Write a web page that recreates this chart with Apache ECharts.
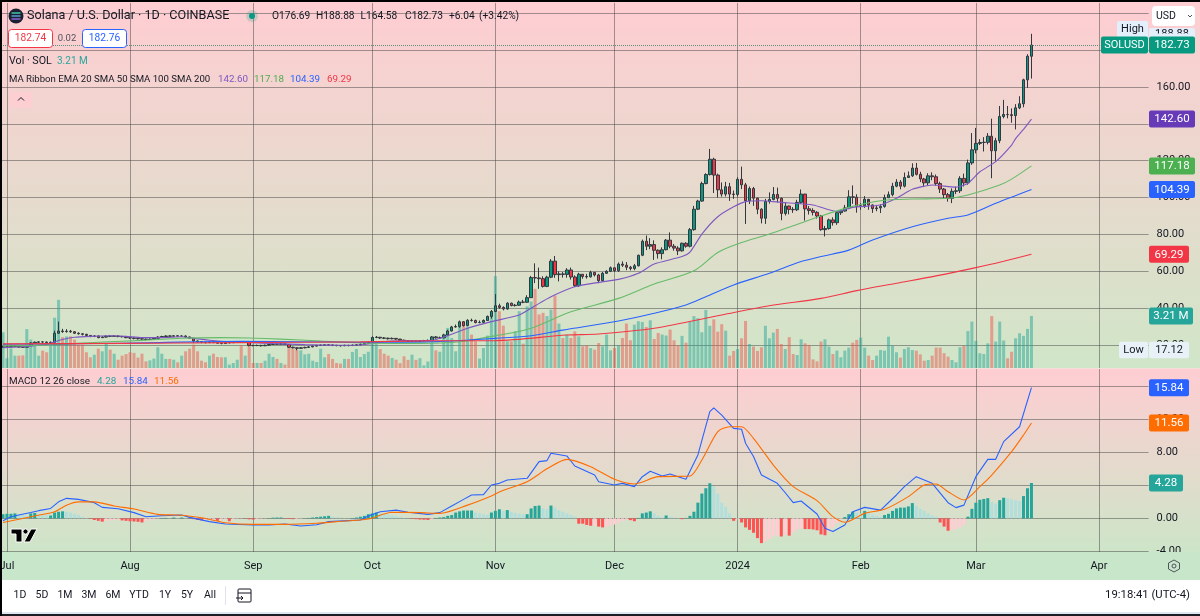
<!DOCTYPE html>
<html>
<head>
<meta charset="utf-8">
<title>SOLUSD</title>
<script src="https://cdn.jsdelivr.net/npm/echarts@6/dist/echarts.min.js"></script>
<style>
    html, body { margin: 0; padding: 0; background: #fff; }
    #main { width: 1200px; height: 616px; }
</style>
</head>
<body>
<div id="main"></div>
<script>
    // daily candles, index 0 = 30 Jun 2023
    var opens = [18.9,19.0,19.1,19.3,19.5,18.9,18.8,19.6,21.1,21.5,
        21.7,21.6,21.3,21.5,26.4,27.6,27.3,27.5,27.2,26.4,
        26.1,25.8,25.2,24.7,24.9,24.0,24.3,24.8,24.7,24.9,
        24.6,24.5,24.0,23.8,23.6,23.4,23.2,23.0,23.2,23.7,
        24.3,24.6,24.9,24.8,25.0,24.8,24.9,24.4,23.7,22.2,
        21.8,21.5,21.3,21.6,21.4,21.0,20.8,21.2,21.3,21.4,
        21.6,21.5,21.6,19.8,19.7,19.8,19.6,19.9,20.3,20.5,
        20.4,20.6,20.3,18.8,18.5,18.2,18.5,18.7,19.0,19.4,
        19.8,19.9,20.1,20.0,19.8,19.7,19.6,19.8,19.7,19.9,
        20.1,20.4,20.9,21.5,24.1,24.2,23.8,23.7,23.4,23.6,
        23.2,22.6,22.3,22.0,22.1,22.0,22.2,22.3,22.5,24.4,
        23.9,23.9,25.5,27.6,29.8,30.0,32.6,30.6,33.4,33.3,
        32.2,32.3,33.3,35.5,38.2,41.3,40.4,39.6,42.7,41.4,
        41.6,43.3,43.2,45.7,56.6,56.4,56.0,51.8,56.8,65.5,
        58.2,58.6,58.3,60.7,56.9,52.2,58.4,57.2,57.0,59.4,
        58.0,54.9,58.9,60.0,61.9,60.3,63.9,63.3,62.2,61.5,
        63.0,68.7,76.3,73.6,74.5,71.4,69.6,71.7,76.9,73.6,
        72.6,71.1,75.2,73.6,82.6,93.7,98.1,107.6,112.5,120.8,
        112.2,104.2,101.9,105.9,101.9,101.7,109.9,106.9,98.3,104.9,
        99.7,93.7,88.8,97.9,99.0,101.7,99.6,91.4,95.4,93.6,
        93.4,97.4,101.9,93.9,93.0,92.0,90.0,82.6,83.2,87.9,
        86.4,91.8,92.7,94.4,100.4,100.2,95.2,95.6,99.1,96.0,
        94.0,94.4,95.2,99.9,101.6,106.2,108.4,106.2,110.9,111.8,
        116.0,112.6,110.1,108.0,111.8,111.3,107.6,104.6,101.6,99.6,
        103.4,103.7,110.4,108.0,118.8,125.9,129.4,129.9,130.0,133.3,
        125.4,130.9,144.0,145.1,145.0,144.5,148.7,150.9,163.9,176.69];
    var closes = [19.0,19.1,19.3,19.5,18.9,18.8,19.6,21.1,21.5,21.7,
        21.6,21.3,21.5,26.4,27.6,27.3,27.5,27.2,26.4,26.1,
        25.8,25.2,24.7,24.9,24.0,24.3,24.8,24.7,24.9,24.6,
        24.5,24.0,23.8,23.6,23.4,23.2,23.0,23.2,23.7,24.3,
        24.6,24.9,24.8,25.0,24.8,24.9,24.4,23.7,22.2,21.8,
        21.5,21.3,21.6,21.4,21.0,20.8,21.2,21.3,21.4,21.6,
        21.5,21.6,19.8,19.7,19.8,19.6,19.9,20.3,20.5,20.4,
        20.6,20.3,18.8,18.5,18.2,18.5,18.7,19.0,19.4,19.8,
        19.9,20.1,20.0,19.8,19.7,19.6,19.8,19.7,19.9,20.1,
        20.4,20.9,21.5,24.1,24.2,23.8,23.7,23.4,23.6,23.2,
        22.6,22.3,22.0,22.1,22.0,22.2,22.3,22.5,24.4,23.9,
        23.9,25.5,27.6,29.8,30.0,32.6,30.6,33.4,33.3,32.2,
        32.3,33.3,35.5,38.2,41.3,40.4,39.6,42.7,41.4,41.6,
        43.3,43.2,45.7,56.6,56.4,56.0,51.8,56.8,65.5,58.2,
        58.6,58.3,60.7,56.9,52.2,58.4,57.2,57.0,59.4,58.0,
        54.9,58.9,60.0,61.9,60.3,63.9,63.3,62.2,61.5,63.0,
        68.7,76.3,73.6,74.5,71.4,69.6,71.7,76.9,73.6,72.6,
        71.1,75.2,73.6,82.6,93.7,98.1,107.6,112.5,120.8,112.2,
        104.2,101.9,105.9,101.9,101.7,109.9,106.9,98.3,104.9,99.7,
        93.7,88.8,97.9,99.0,101.7,99.6,91.4,95.4,93.6,93.4,
        97.4,101.9,93.9,93.0,92.0,90.0,82.6,83.2,87.9,86.4,
        91.8,92.7,94.4,100.4,100.2,95.2,95.6,99.1,96.0,94.0,
        94.4,95.2,99.9,101.6,106.2,108.4,106.2,110.9,111.8,116.0,
        112.6,110.1,108.0,111.8,111.3,107.6,104.6,101.6,99.6,103.4,
        103.7,110.4,108.0,118.8,125.9,129.4,129.9,130.0,133.3,125.4,
        130.9,144.0,145.1,145.0,144.5,148.7,150.9,163.9,176.69,182.73];
    var highs = [19.5,19.5,19.7,19.9,19.6,19.2,19.9,21.5,21.9,22.1,
        22.0,21.9,21.9,27.8,32.7,28.8,28.6,28.2,27.6,26.9,
        26.4,26.1,25.4,25.4,25.2,24.8,25.2,25.2,25.3,25.2,
        25.0,24.7,24.2,24.0,23.9,23.6,23.5,23.6,24.1,24.8,
        25.0,25.3,25.3,25.4,25.3,25.3,25.2,24.5,23.8,22.4,
        22.0,21.8,22.0,21.9,21.6,21.3,21.6,21.8,21.8,22.0,
        22.1,22.0,21.9,20.1,20.2,20.1,20.2,20.6,20.9,20.9,
        21.0,20.9,20.4,19.1,18.8,18.9,19.1,19.4,19.8,20.1,
        20.3,20.5,20.4,20.3,20.1,20.0,20.2,20.1,20.3,20.5,
        20.8,21.3,21.9,24.7,24.9,24.4,24.3,24.0,24.1,23.8,
        23.3,22.9,22.6,22.6,22.5,22.7,22.8,23.0,24.9,24.9,
        24.6,26.1,28.3,30.4,31.1,33.3,33.0,34.0,34.3,33.8,
        33.3,33.9,36.0,39.0,47.6,42.4,41.0,43.2,43.0,42.3,
        44.1,44.5,47.0,57.5,64.3,62.0,57.3,57.6,66.6,68.3,
        60.0,59.6,61.7,62.0,57.8,59.2,58.4,58.6,60.3,59.6,
        58.6,59.6,60.6,62.6,61.9,64.8,65.4,65.0,62.9,64.0,
        69.0,77.2,79.4,78.0,76.8,71.9,73.0,77.5,81.1,74.8,
        73.6,75.6,75.8,83.5,95.5,98.8,108.6,113.2,126.4,121.6,
        113.0,108.2,108.5,108.0,103.8,111.0,116.8,108.0,106.0,105.8,
        100.0,94.2,99.3,102.8,105.7,105.4,100.0,97.3,95.7,94.8,
        98.8,104.4,102.0,95.4,94.2,92.6,90.6,84.6,88.6,89.3,
        92.6,93.3,96.0,104.0,106.6,101.8,97.0,100.8,98.0,96.3,
        96.0,96.4,101.6,103.3,108.0,110.0,109.5,113.6,114.2,118.6,
        118.8,114.0,110.7,113.2,113.7,112.5,108.6,105.2,102.5,105.0,
        106.0,111.6,113.0,120.6,135.0,137.8,131.7,132.8,135.0,142.8,
        132.4,149.7,153.0,149.7,148.4,150.7,155.0,164.5,177.8,188.88];
    var lows = [18.7,18.8,18.9,19.1,18.6,18.4,18.7,19.4,21.0,21.3,
        21.2,21.0,21.0,21.2,26.1,26.6,26.7,26.6,26.0,25.6,
        25.2,24.9,24.2,24.3,23.7,23.8,24.0,24.3,24.4,24.2,
        24.1,23.7,23.3,23.1,23.0,22.8,22.6,22.8,23.0,23.5,
        24.1,24.4,24.4,24.5,24.5,24.5,24.1,23.3,21.0,21.2,
        21.0,20.9,21.1,21.0,20.6,20.4,20.6,20.9,21.0,21.2,
        21.1,21.1,19.3,19.3,19.4,19.2,19.4,19.6,20.0,20.0,
        20.1,20.0,18.4,18.1,17.12,17.9,18.2,18.5,18.8,19.2,
        19.5,19.7,19.6,19.4,19.3,19.2,19.4,19.3,19.5,19.7,
        19.9,20.3,20.8,21.2,23.7,23.3,23.2,23.0,23.1,22.8,
        22.2,21.9,21.7,21.7,21.6,21.8,21.9,22.0,22.3,23.5,
        23.4,23.6,25.1,27.3,29.4,29.4,30.0,30.2,32.7,31.7,
        31.8,32.0,33.1,34.3,38.0,39.6,38.8,39.1,41.0,40.9,
        41.2,42.7,42.8,45.5,53.6,50.5,51.2,51.4,56.3,56.5,
        54.5,56.6,56.5,55.5,51.5,51.5,56.0,56.0,56.6,57.2,
        53.5,54.4,58.6,59.6,59.6,59.7,62.4,60.6,60.5,60.6,
        62.6,68.2,71.5,72.0,66.2,66.9,66.5,71.4,72.5,71.2,
        68.8,70.7,72.8,73.0,82.0,93.2,97.8,107.2,112.0,102.5,
        100.0,100.5,100.6,98.2,99.3,100.6,104.6,85.7,96.5,95.5,
        91.0,86.0,85.7,96.7,98.5,97.4,87.7,90.3,90.9,91.7,
        92.7,96.6,87.5,90.8,90.3,88.6,82.0,78.9,82.6,84.8,
        85.2,90.6,92.4,93.7,96.6,91.8,93.4,94.4,93.4,91.7,
        92.6,91.6,94.5,100.0,100.7,105.6,104.5,105.5,110.6,111.2,
        112.0,108.4,105.7,106.6,109.4,106.5,102.5,99.4,97.8,97.0,
        101.9,102.5,106.0,107.0,117.8,124.0,128.5,125.0,128.9,110.5,
        120.0,129.5,143.0,143.0,140.6,137.0,148.0,149.0,159.5,164.58];
    var volumes = [2.2,.6,1.2,.76,.76,.78,2.4,1.75,1.4,.76,
        1.07,.97,1.4,3.1,4.2,1.9,1.95,1.95,1.75,1.44,
        1.44,.97,.66,.82,1.19,1.03,1.5,1.13,.88,.51,
        .76,.86,.97,.93,.64,.88,.41,.47,.58,1.28,
        .88,.56,.56,.51,.35,.76,1.03,1.19,1.44,1.03,
        .45,.35,.76,.88,.68,.66,.66,.21,.31,.51,
        1.4,.76,1.5,.31,.31,.31,.45,.88,.68,.56,
        .31,.21,1.38,1.19,1.13,1.09,.84,.88,.45,.37,
        1.19,.66,.86,.56,.31,.27,.56,.56,.99,1.17,
        .68,.86,1.0,1.91,1.6,1.17,.88,.76,.62,.51,
        .3,.72,.5,.82,.5,.6,.16,.4,1.75,1.09,
        1,1.85,2.47,1.85,1.03,2.57,2.88,2.57,2.06,1.65,
        .58,1.23,2,3.5,5.66,3.5,2.61,1.65,1.65,2.26,
        3.5,1.5,3.8,4.1,4.88,3.3,3.4,3.2,3.6,4.47,
        2.74,1.85,2.06,1.85,2.26,1.95,1.34,1.4,1.23,1.13,
        1.54,1.34,2.06,1.09,1.23,1.4,1.85,2.74,1.71,2.67,
        2.88,2.84,2.53,2.94,1.79,2.16,2.06,2,2.37,1.71,
        1.4,1.98,1.56,2.86,3.2,3.07,2.2,3.58,2.6,3.0,
        2.24,2.7,2.3,.76,1.05,1.17,1.83,2.9,1.48,1.32,
        1.05,1.28,2.6,1.83,2.18,2.41,1.48,1.17,1.9,.86,
        .8,1.77,1.52,1.42,.53,.41,1.63,1.77,1.32,.86,
        1.07,.66,1.07,1.26,1.56,1.73,1.87,1.26,.76,.49,
        .76,1.11,1.07,1.93,1.38,.97,.64,1.17,1.28,1.11,
        1.07,.84,.45,.49,.76,1.26,1.26,.91,.7,.49,
        .35,1.28,1.36,2.28,2.86,1.67,.91,.86,1.52,3.2,
        1.63,2.86,1.69,.6,1.0,1.83,2.14,1.98,2.41,3.21];

    // moving averages read at knots: [day index, price]
    var ema20 = [[0,18.6],[4,18.9],[8,19.6],[11,20.4],[13,21.7],[15,23],[18,24.2],[22,24.7],[27,25],[31,24.7],
        [35,24],[40,24],[45,24.5],[48,23.6],[52,22.6],[56,21.9],[60,21.6],[63,21.3],[68,20.8],[72,20.5],
        [76,20.2],[80,20],[85,19.9],[90,20],[93,20.8],[96,21.9],[100,22.3],[104,22.3],[108,22.5],[112,25],
        [117,29.1],[123,32.7],[130,36.3],[134,41.3],[138,46.2],[144,51.6],[150,54],[155,55.6],[160,58.9],
        [164,64],[171,68],[173,70.4],[176,80.2],[180,89.6],[184,95],[187,97.8],[191,98.3],[196,97.4],
        [204,96],[210,92.4],[214,94.7],[221,96],[225,99.6],[229,104.5],[234,106.8],[240,105.6],
        [243,107.7],[246,114],[250,119.5],[254,128.5],[255,132],[257,137],[259,142.6]];
    var sma50 = [[0,19.5],[13,20.2],[25,21.6],[35,22.5],[45,23.7],[55,24],[62,23.8],[70,23.2],[80,22.2],[92,21],
        [105,20.9],[115,21.8],[125,25.4],[133,29.1],[143,38],[155,45.3],[164,53.1],[174,60.3],[180,70.2],
        [185,74.8],[193,80.2],[199,84.7],[206,90],[213,94.7],[221,98.3],[229,99.2],[238,99.6],[243,101.4],
        [251,106.8],[254,110],[259,117.18]];
    var sma100 = [[0,20.4],[30,21],[60,22],[90,21.5],[108,21.8],[117,22.7],[124,23.6],[133,25],[141,28.1],
        [155,33],[164,37.2],[172,41.7],[177,46.2],[184,52.6],[193,58.9],[201,65.3],[206,68],[213,71.5],
        [219,77],[229,84.2],[238,88.8],[243,90.6],[250,96.9],[259,104.39]];
    var sma200 = [[0,20.6],[30,20.9],[60,21.3],[90,21.7],[108,22.3],[124,22.4],[142,25.4],[150,26],[164,29.1],
        [181,36.3],[193,41.3],[206,45.3],[215,49.5],[225,53.5],[235,57.5],[245,62],[252,65.5],[259,69.29]];

    var macdLine = [[0,-.28],[2,.2],[4,.4],[7,.7],[9,.93],[12,1.2],[14,2],[16,2.42],[19,2.3],[23,1.9],[25,1.33],
        [29,1.17],[33,.69],[36,.2],[40,.32],[45,.4],[47,.12],[52,-.4],[56,-.69],[63,-.8],[67,-.8],[71,-.69],
        [75,-.93],[79,-.77],[82,-.4],[87,-.28],[90,-.2],[92,.28],[95,.8],[99,1],[102,.73],[107,.48],[110,.69],
        [113,1.5],[116,2.3],[118,2.83],[121,2.87],[123,4.04],[125,4.24],[127,4.65],[132,4.85],[135,6.87],
        [137,7],[138,7.88],[142,7.56],[144,6.34],[149,5.25],[150,4.44],[154,4.04],[156,4.24],[159,3.84],
        [161,5.05],[163,5.7],[166,5.13],[168,5.37],[170,5.05],[172,4.73],[175,7.68],[178,12.93],[179,13.4],
        [181,12.5],[184,10.9],[186,10.8],[187,9.1],[189,7.5],[191,5.25],[195,4.24],[197,3.1],[199,1.9],
        [201,2.1],[205,.53],[207,-1.2],[209,-1.6],[212,-.8],[214,.8],[217,1.33],[221,1],[225,2.83],[227,3.84],
        [230,5.05],[232,4.65],[234,4.24],[238,1.9],[240,1.3],[242,1.6],[245,5.05],[248,7.15],[250,7.15],
        [252,9.3],[256,11.1],[259,15.84]];
    var signalLine = [[0,-.5],[8,.28],[13,.8],[16,1.6],[19,2],[23,2],[28,1.5],[33,1.13],[39,.48],[44,.4],[50,.08],
        [56,-.53],[63,-.73],[71,-.73],[79,-.6],[84,-.4],[92,-.08],[98,.73],[105,.69],[110,.6],[117,1.6],
        [123,2.7],[125,3.2],[132,4.44],[137,6],[142,7.15],[148,6.26],[154,4.73],[159,4.16],[165,5.05],[173,5.13],
        [176,7.07],[180,10.5],[183,11.1],[186,11.1],[189,9.7],[194,6.46],[199,3.84],[205,2.14],[209,.2],
        [212,-.48],[217,.6],[222,1.09],[228,2.63],[232,4.04],[235,4.16],[238,3.23],[242,2.22],[246,3.84],
        [249,5.25],[254,8.08],[257,10.1],[259,11.56]];
    var histogram = [.5,.55,.55,.6,.5,.4,.3,.6,.65,.5,
        .4,.35,.35,.7,.8,.85,.8,.7,.55,.4,
        .2,.05,-.05,-.2,-.3,-.4,-.3,-.25,-.2,-.15,
        -.25,-.3,-.35,-.38,-.42,-.5,-.3,-.25,-.15,-.05,
        .03,.05,.03,.1,.05,.1,.05,-.02,-.1,-.2,
        -.25,-.22,-.2,-.15,-.3,-.15,-.1,-.35,-.1,-.05,
        -.03,-.03,-.12,-.15,-.12,-.05,-.03,.02,.08,.1,
        .1,-.05,-.08,-.1,-.08,-.05,0,.05,.1,.15,
        .2,.25,.3,.2,.15,.1,.05,.03,.03,.1,
        .2,.3,.5,.6,.7,.6,.5,.45,.35,.25,
        .15,.05,.02,-.05,-.1,-.15,-.17,-.2,-.15,.05,
        .1,.15,.3,.4,.7,.85,.95,.95,.95,.7,
        .6,.5,.45,.7,.9,1.1,.9,1.0,.8,.65,
        .55,.5,.5,1.2,1.5,1.55,1.2,1.1,1.55,1.3,
        1.0,.8,.6,.4,.2,-.65,-.65,-.8,-.9,-.85,
        -1.0,-1.1,-1.0,-.9,-.75,-.55,-.3,-.15,-.22,-.35,
        .05,.6,.7,.85,.6,.3,.15,.35,.2,.1,
        .05,-.1,.05,.3,.8,1.9,3.0,3.65,4.25,3.9,
        3.0,1.9,1.4,.6,-.3,-.1,-.5,-1.1,-1.4,-1.75,
        -2.4,-3.0,-2.8,-2.5,-2.2,-2.05,-2.2,-2.0,-2.1,-1.7,
        -1.4,-1.2,-1.3,-1.3,-1.35,-1.45,-1.95,-2.05,-1.6,-1.1,
        -.6,-.1,.15,.5,.8,.7,.6,.9,.65,.45,
        .3,.2,.4,.55,.9,1.2,1.3,1.3,1.45,1.85,
        1.5,1.15,.9,.6,.35,.2,-.5,-1.0,-1.5,-1.45,
        -1.3,-1.1,-.8,.2,1.15,1.9,2.25,2.35,2.45,2.0,
        1.8,2.2,2.5,2.45,2.3,2.2,2.1,2.7,3.65,4.28];

    // month starts on the time axis
    var monthIndex = [1,32,63,93,124,154,185,216,245,276];
    var monthLabels = ['Jul','Aug','Sep','Oct','Nov','Dec','2024','Feb','Mar','Apr'];
    var priceTicks = [20,40,60,80,100,120,140,160,180,200];
    var macdTicks = [-4,0,4,8,12,16];
    var lastPrice = 182.73, highPrice = 188.88, lowPrice = 17.12;
    var dayCount = 289;

    var FONT = 'Roboto, sans-serif';
    var TEXT = '#131722';

    var categories = [];
    for (var d = 0; d < dayCount; d++) {
        categories.push(String(d));
    }

    var gridLine = {show: true, lineStyle: {color: 'rgba(70,70,70,0.5)', width: 1, type: 'solid'}};

    function monthSplit(idx) {
        return monthIndex.indexOf(idx) >= 0;
    }

    function lineSeries(name, data, color, xIdx, yIdx, smooth) {
        return {
            name: name, type: 'line', data: data, xAxisIndex: xIdx, yAxisIndex: yIdx,
            showSymbol: false, symbol: 'none', smooth: smooth, z: 5, silent: true,
            lineStyle: {color: color, width: 1.1}
        };
    }

    var option = {
        animation: false,
        backgroundColor: 'transparent',
        textStyle: {fontFamily: FONT},
        grid: [
            {left: 1, width: 1147.6, top: 3, height: 365},
            {left: 1, width: 1147.6, top: 369, height: 183}
        ],
        xAxis: [
            {
                type: 'category', gridIndex: 0, data: categories, boundaryGap: true,
                axisLine: {show: false}, axisTick: {show: false, alignWithLabel: true}, axisLabel: {show: false},
                splitLine: {show: true, alignWithLabel: true, interval: monthSplit, lineStyle: gridLine.lineStyle}
            },
            {
                type: 'category', gridIndex: 1, data: categories, boundaryGap: true,
                axisLine: {show: false}, axisTick: {show: false, alignWithLabel: true}, axisLabel: {show: false},
                splitLine: {show: true, alignWithLabel: true, interval: monthSplit, lineStyle: gridLine.lineStyle}
            }
        ],
        yAxis: [
            {
                type: 'value', gridIndex: 0, position: 'right', min: 7.53, max: 205.58, scale: true,
                axisLine: {show: false}, axisTick: {show: false, customValues: priceTicks},
                axisLabel: {
                    customValues: priceTicks, color: TEXT, fontSize: 11, fontFamily: FONT, margin: 8,
                    padding: [6, 0, 0, 0],
                    formatter: function (v) { return v.toFixed(2); }
                },
                splitLine: gridLine
            },
            {type: 'value', gridIndex: 0, show: false, min: 0, max: 22.5, splitLine: {show: false}},
            {
                type: 'value', gridIndex: 1, position: 'right', min: -4.08, max: 18.1, scale: true,
                axisLine: {show: false}, axisTick: {show: false, customValues: macdTicks},
                axisLabel: {
                    customValues: macdTicks, color: TEXT, fontSize: 11, fontFamily: FONT, margin: 8,
                    padding: [6, 0, 0, 0],
                    formatter: function (v) { return v.toFixed(2); }
                },
                splitLine: gridLine
            }
        ],
        series: [
            {
                name: 'Vol', type: 'bar', data: volumes, xAxisIndex: 0, yAxisIndex: 1, barWidth: 3, z: 2, silent: true,
                itemStyle: {
                    color: function (p) {
                        return closes[p.dataIndex] >= opens[p.dataIndex] ? 'rgba(38,166,154,0.5)' : 'rgba(239,83,80,0.5)';
                    }
                }
            },
            {
                name: 'SOLUSD', type: 'candlestick', xAxisIndex: 0, yAxisIndex: 0, barWidth: 3, z: 3, silent: true,
                data: opens.map(function (o, i) { return [o, closes[i], lows[i], highs[i]]; }),
                itemStyle: {color: '#089981', color0: '#f23645', borderColor: '#33373f', borderColor0: '#33373f', borderWidth: 1},
                markLine: {
                    silent: true, symbol: 'none', label: {show: false},
                    lineStyle: {color: '#5f8f7f', type: 'dotted', width: 1},
                    data: [{yAxis: lastPrice}]
                }
            },
            lineSeries('EMA 20', ema20, '#7e57c2', 0, 0, 0.2),
            lineSeries('SMA 50', sma50, '#66bb6a', 0, 0, 0.3),
            lineSeries('SMA 100', sma100, '#2962ff', 0, 0, 0.3),
            lineSeries('SMA 200', sma200, '#f23645', 0, 0, 0.3),
            {
                name: 'Histogram', type: 'bar', data: histogram, xAxisIndex: 1, yAxisIndex: 2, barWidth: 3, z: 2, silent: true,
                itemStyle: {
                    color: function (p) {
                        var v = p.value, prev = p.dataIndex > 0 ? histogram[p.dataIndex - 1] : 0;
                        if (v >= 0) {
                            return v >= prev ? '#26a69a' : '#b2dfdb';
                        }
                        return v <= prev ? '#ff5252' : '#ffcdd2';
                    }
                }
            },
            lineSeries('MACD', macdLine, '#2962ff', 1, 2, false),
            lineSeries('Signal', signalLine, '#ff6d00', 1, 2, 0.25)
        ]
    };

    var chart = echarts.init(document.getElementById('main'));
    chart.setOption(option);

    function txt(x, y, text, color, size, align, weight) {
        return {
            type: 'text', z: 120, silent: true,
            style: {
                x: x, y: y, text: text, fill: color || TEXT, fontSize: size || 11, fontFamily: FONT,
                textAlign: align || 'left', textVerticalAlign: 'middle', fontWeight: weight || 'normal'
            }
        };
    }

    function rect(x, y, w, h, fill, r, stroke, z) {
        return {
            type: 'rect', z: z || 110, silent: true,
            shape: {x: x, y: y, width: w, height: h, r: r || 0},
            style: {fill: fill, stroke: stroke || null, lineWidth: 1}
        };
    }

    function line(points, color, width, fill) {
        return {
            type: fill ? 'polygon' : 'polyline', z: 121, silent: true,
            shape: {points: points},
            style: {fill: fill || null, stroke: color, lineWidth: width || 1}
        };
    }

    function gradient(c1, c2) {
        return new echarts.graphic.LinearGradient(0, 0, 0, 1, [{offset: 0, color: c1}, {offset: 1, color: c2}]);
    }

    // right hand scale tags, placed through the axes
    function tag(value, axisIdx, label, fill, width, textColor) {
        var y = chart.convertToPixel({yAxisIndex: axisIdx}, value);
        return [
            rect(1149, y - 8.5, width || 46, 17, fill, 2, null, 122),
            Object.assign(txt(1149 + (width || 46) / 2, y + 0.5, label, textColor || '#fff', 11.5, 'center'), {z: 123})
        ];
    }

    var g = [];
    // pane backgrounds
    g.push(rect(0, 0, 1200, 368.5, gradient('#ffcdd2', '#d0e6c8'), 0, null, -10));
    g.push(rect(0, 368.5, 1200, 183.5, gradient('#ffcdd2', '#cde5c8'), 0, null, -10));
    g.push(rect(0, 552, 1200, 28, '#c8e6c9', 0, null, -10));
    g.push(rect(1149, 552, 51, 28, '#c8e6c9', 0, null, 105));

    // time axis labels, placed through the axis
    monthIndex.forEach(function (idx, k) {
        g.push(txt(chart.convertToPixel({xAxisIndex: 1}, idx), 566, monthLabels[k], TEXT, 11, 'center'));
    });

    // high / low labels
    var highY = chart.convertToPixel({yAxisIndex: 0}, highPrice);
    g.push(rect(1149, 28, 46, 12, '#e3effb', 2, null, 110));
    g.push(txt(1172, highY, highPrice.toFixed(2), TEXT, 11, 'center'));
    g.push(rect(1149, 33.5, 46, 5, '#e3effb', 0, null, 121));
    g.push(rect(1117, 21, 31, 17, '#e3effb', 2, null, 110));
    g.push(txt(1132.5, 29.5, 'High', TEXT, 11, 'center'));
    var lowY = chart.convertToPixel({yAxisIndex: 0}, lowPrice);
    g.push(rect(1119, 341.7, 29, 16.5, '#e8f1f8', 2));
    g.push(txt(1133.5, lowY, 'Low', TEXT, 11, 'center'));
    g.push(rect(1149, 341.7, 40, 16.5, '#e8f1f8', 2));
    g.push(txt(1169, lowY, lowPrice.toFixed(2), TEXT, 11, 'center'));

    var lastY = chart.convertToPixel({yAxisIndex: 0}, lastPrice);
    g.push(rect(1101, lastY - 8.5, 47, 17, '#089981', 2, null, 122));
    g.push(Object.assign(txt(1124.5, lastY + 0.5, 'SOLUSD', '#fff', 11, 'center'), {z: 123}));
    g = g.concat(tag(lastPrice, 0, lastPrice.toFixed(2), '#089981'));
    g = g.concat(tag(142.60, 0, '142.60', '#673ab7'));
    g = g.concat(tag(117.18, 0, '117.18', '#4caf50'));
    g = g.concat(tag(104.39, 0, '104.39', '#2962ff'));
    g = g.concat(tag(69.29, 0, '69.29', '#f23645', 40));
    g = g.concat(tag(3.21, 1, '3.21 M', '#26a69a', 44));
    g = g.concat(tag(15.84, 2, '15.84', '#2962ff', 40));
    g = g.concat(tag(11.56, 2, '11.56', '#ff6d00', 40));
    g = g.concat(tag(4.28, 2, '4.28', '#26a69a', 34));

    // USD button
    g.push(rect(1152, 6, 43, 20, '#fff', 4));
    g.push(txt(1156, 16, 'USD', TEXT, 10.5));
    g.push(line([[1188, 15], [1190, 17], [1192, 15]], '#50535e', 1));

    // header
    g.push({type: 'circle', z: 120, silent: true, shape: {cx: 16, cy: 16, r: 7.5}, style: {fill: '#1c2030'}});
    g.push(line([[11.5, 13], [20.5, 13]], '#3fd2b0', 1.4));
    g.push(line([[11.5, 16], [20.5, 16]], '#5aa6e0', 1.4));
    g.push(line([[11.5, 19], [20.5, 19]], '#8f6be8', 1.4));
    g.push(txt(27, 16, 'Solana / U.S. Dollar · 1D · COINBASE', TEXT, 12.6));
    g.push({type: 'circle', z: 120, silent: true, shape: {cx: 252, cy: 16, r: 6}, style: {fill: 'rgba(8,153,129,0.2)'}});
    g.push({type: 'circle', z: 121, silent: true, shape: {cx: 252, cy: 16, r: 3}, style: {fill: '#089981'}});
    g.push(txt(272, 16, 'O176.69', TEXT, 10.2));
    g.push(txt(316, 16, 'H188.88', TEXT, 10.2));
    g.push(txt(360.5, 16, 'L164.58', TEXT, 10.2));
    g.push(txt(405, 16, 'C182.73', TEXT, 10.2));
    g.push(txt(449, 16, '+6.04', TEXT, 10.2));
    g.push(txt(479, 16, '(+3.42%)', TEXT, 10.2));
    g.push(rect(8.5, 29.5, 44, 18, '#fff', 3, '#f23645'));
    g.push(txt(30.5, 38.5, '182.74', '#f23645', 10.2, 'center'));
    g.push(txt(67, 38.5, '0.02', '#50535e', 9.5, 'center'));
    g.push(rect(82.5, 29.5, 44, 18, '#fff', 3, '#2962ff'));
    g.push(txt(104.5, 38.5, '182.76', '#2962ff', 10.2, 'center'));
    g.push(txt(9, 61, 'Vol · SOL', TEXT, 10.7));
    g.push(txt(57, 61, '3.21 M', '#26a69a', 10));
    g.push(txt(9, 80, 'MA Ribbon EMA 20 SMA 50 SMA 100 SMA 200', TEXT, 9.6));
    g.push(txt(218, 80, '142.60', '#7e57c2', 9.8));
    g.push(txt(254, 80, '117.18', '#4caf50', 9.8));
    g.push(txt(290, 80, '104.39', '#2962ff', 9.8));
    g.push(txt(327, 80, '69.29', '#f23645', 9.8));
    g.push(rect(10, 92, 22, 16, 'rgba(255,205,210,0.8)', 2));
    g.push(line([[18, 100.5], [21, 97.5], [24, 100.5]], TEXT, 1));
    g.push(txt(9, 382, 'MACD 12 26 close', TEXT, 9.9));
    g.push(txt(97, 382, '4.28', '#26a69a', 9.9));
    g.push(txt(123, 382, '15.84', '#2962ff', 9.9));
    g.push(txt(154, 382, '11.56', '#ff6d00', 9.9));

    // logo bottom left
    g.push(line([[11, 529], [22, 529], [22, 542], [16, 542], [16, 534], [11, 534]], '#fff', 1, '#000'));
    g.push({type: 'circle', z: 121, silent: true, shape: {cx: 25.5, cy: 531.5, r: 2.6}, style: {fill: '#000', stroke: '#fff', lineWidth: 1}});
    g.push(line([[31, 529], [37, 529], [30, 542], [24, 542]], '#fff', 1, '#000'));

    // settings icon on the time axis
    g.push(line([[1174, 560], [1179.5, 563], [1179.5, 569], [1174, 572], [1168.5, 569], [1168.5, 563]], '#50535e', 1, 'rgba(0,0,0,0)'));
    g.push({type: 'circle', z: 121, silent: true, shape: {cx: 1174, cy: 566, r: 2}, style: {fill: 'none', stroke: '#50535e', lineWidth: 1}});

    // bottom toolbar
    g.push(rect(0, 580, 1200, 32, '#fff'));
    g.push(rect(0, 612, 1200, 2, '#dfe6ef'));
    g.push(rect(0, 614, 1200, 2, '#1b1d22'));
    var ranges = [['1D', 20], ['5D', 42], ['1M', 65], ['3M', 89], ['6M', 113], ['YTD', 139], ['1Y', 165], ['5Y', 187], ['All', 210]];
    ranges.forEach(function (r) {
        g.push(txt(r[1], 595, r[0], TEXT, 10.5, 'center'));
    });
    g.push(line([[225.5, 586], [225.5, 605]], '#e0e3eb', 1));
    g.push(rect(238, 589, 13, 13, 'rgba(0,0,0,0)', 1, '#131722', 121));
    g.push(line([[238, 593], [251, 593]], TEXT, 1));
    g.push(line([[236, 598], [243, 598]], TEXT, 1));
    g.push(line([[241, 596], [243, 598], [241, 600]], TEXT, 1));
    g.push(txt(1190, 595, '19:18:41 (UTC-4)', TEXT, 11.3, 'right'));

    // screen edge
    g.push(rect(0, 0, 1200, 2, '#000', 0, null, 130));
    g.push(rect(0, 0, 2, 616, '#000', 0, null, 130));

    chart.setOption({graphic: {elements: g}});
</script>
</body>
</html>
